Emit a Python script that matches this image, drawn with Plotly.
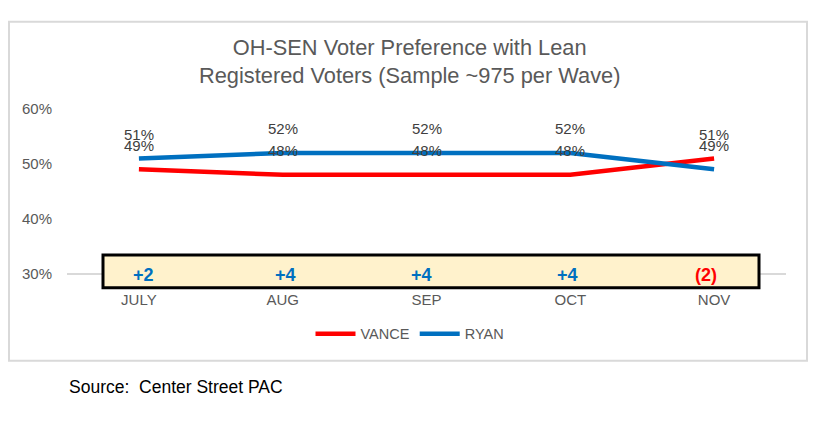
import plotly.graph_objects as go

months = ["JULY", "AUG", "SEP", "OCT", "NOV"]
vance = [49, 48, 48, 48, 51]
ryan = [51, 52, 52, 52, 49]
margin_labels = ["+2", "+4", "+4", "+4", "(2)"]
y_ticks = [30, 40, 50, 60]
title_lines = ["OH-SEN Voter Preference with Lean", "Registered Voters (Sample ~975 per Wave)"]
source_text = "Source:&nbsp;&nbsp;Center Street PAC"

W, H = 835, 424
OFF = 8  # page offset of the plot inside the browser window
FONT = "Liberation Sans, Arial, sans-serif"
RED = "#FF0000"
BLUE = "#0070C0"
GREY = "#595959"


def px(x):
    return (x - OFF) / W


def py(y):
    return 1 - (y - OFF) / H


fig = go.Figure()
fig.add_trace(go.Scatter(x=months, y=vance, name="VANCE", mode="lines",
                         line=dict(color=RED, width=4.5)))
fig.add_trace(go.Scatter(x=months, y=ryan, name="RYAN", mode="lines",
                         line=dict(color=BLUE, width=4.5)))

annotations = []
# data labels above each point
for series in (ryan, vance):
    for m, v in zip(months, series):
        annotations.append(dict(x=m, y=v, xref="x", yref="y", text=f"{v}%",
                                showarrow=False, yshift=24,
                                font=dict(family=FONT, size=15, color="#404040")))

# margin labels inside box
shifts = [5, 3, -5, -3, -8]
for m, lab, s in zip(months, margin_labels, shifts):
    col = RED if lab.startswith("(") else BLUE
    annotations.append(dict(x=m, y=py(277), xref="x", yref="paper", text=f"<b>{lab}</b>",
                            showarrow=False, xshift=s, yanchor="middle",
                            font=dict(family=FONT, size=18, color=col)))

# title (two lines in one text)
annotations.append(dict(x=px(409), y=py(54), xref="paper", yref="paper",
                        text="<br>".join(title_lines),
                        showarrow=False, yanchor="middle", xanchor="center",
                        font=dict(family=FONT, size=21.8, color=GREY)))
# source
annotations.append(dict(x=px(67), y=py(393), xref="paper", yref="paper",
                        text=source_text, showarrow=False,
                        xanchor="left", yanchor="middle",
                        font=dict(family=FONT, size=17.5, color="#000000")))

shapes = [
    dict(type="rect", xref="paper", yref="paper", x0=px(9), x1=px(807), y0=py(13), y1=py(366),
         line=dict(color="#D9D9D9", width=2), fillcolor="rgba(0,0,0,0)", layer="below"),
    dict(type="rect", xref="paper", yref="paper", x0=px(103), x1=px(759), y0=py(256), y1=py(290),
         line=dict(color="#000000", width=3), fillcolor="#FFF2CC", layer="above"),
]

fig.update_layout(
    width=W, height=H,
    margin=dict(l=0, r=0, t=0, b=0),
    paper_bgcolor="white", plot_bgcolor="white",
    showlegend=True,
    legend=dict(orientation="h", x=px(410), y=py(338), xanchor="center", yanchor="middle",
                font=dict(family=FONT, size=14.5, color=GREY), itemwidth=40,
                traceorder="normal"),
    annotations=annotations,
    shapes=shapes,
    xaxis=dict(domain=[px(67), px(786)], range=[-0.5, 4.5], showgrid=False, showline=True,
               linecolor="#D9D9D9", linewidth=2, ticks="", ticklabelstandoff=12,
               tickfont=dict(family=FONT, size=15, color=GREY), fixedrange=True),
    yaxis=dict(domain=[py(275), py(104)], range=[30, 60], tickvals=y_ticks,
               ticktext=[f"{t}%" for t in y_ticks], showgrid=False, zeroline=False,
               showline=False, ticks="", ticklabelstandoff=14,
               tickfont=dict(family=FONT, size=15, color=GREY), fixedrange=True),
)

fig.write_html("out.html")
